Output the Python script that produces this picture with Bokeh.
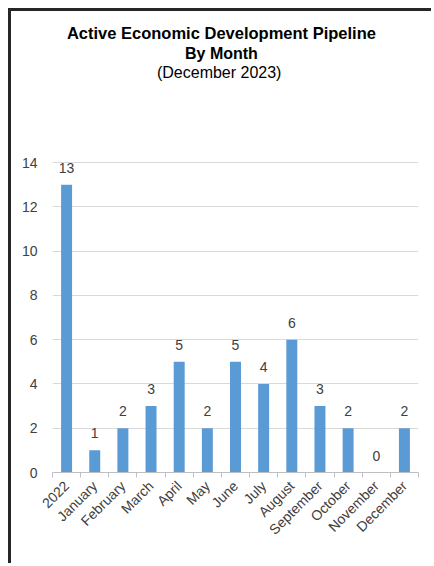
import math
from bokeh.plotting import figure
from bokeh.models import Range1d, FixedTicker, ColumnDataSource, LabelSet, Label
from bokeh.core.properties import value
from bokeh.embed import file_html
from bokeh.resources import INLINE

categories = ["2022", "January", "February", "March", "April", "May", "June",
              "July", "August", "September", "October", "November", "December"]
values = [13, 1, 2, 3, 5, 2, 5, 4, 6, 3, 2, 0, 2]
y_ticks = [0, 2, 4, 6, 8, 10, 12, 14]
title_lines = ["Active Economic Development Pipeline", "By Month", "(December  2023)"]

FONT = "Liberation Sans"
LABEL_COLOR = "#404040"

# frame: 366 x 461 px; 14 units of value = 310 px
Y_TOP = 461 / (310 / 14)

x = list(range(len(categories)))
src = ColumnDataSource(dict(x=x, top=values, label=[str(v) for v in values]))

p = figure(width=423, height=555, output_backend="svg", toolbar_location=None,
           title=None,
           x_range=Range1d(-0.5, len(categories) - 0.5), y_range=Range1d(0, Y_TOP),
           min_border_left=41, min_border_right=16, min_border_top=0,
           min_border_bottom=94)
p.styles = {"margin-left": "8px", "margin-top": "8px",
            "border-left": "3px solid #262626", "border-top": "3px solid #262626"}
p.outline_line_color = None
p.background_fill_color = "white"
p.border_fill_color = "white"

p.vbar(x="x", top="top", width=0.39, source=src, fill_color="#5B9BD5",
       line_color=None)

labels = LabelSet(x="x", y="top", text="label", source=src, text_align="center",
                  text_baseline="alphabetic", y_offset=12,
                  text_font_size="14px", text_color=LABEL_COLOR,
                  text_font=value(FONT))
p.add_layout(labels)

# Title lines
title_specs = [(19.83, "bold", "16.5px"), (18.93, "bold", "16px"), (18.08, "normal", "16px")]
for txt, (yy, style, size) in zip(title_lines, title_specs):
    p.add_layout(Label(x=5.5, y=yy, text=txt, text_align="center",
                       text_baseline="alphabetic", text_font_size=size,
                       text_font_style=style, text_font=FONT, text_color="black"))

xa = p.xaxis[0]
xa.ticker = FixedTicker(ticks=x, minor_ticks=[i - 0.5 for i in range(len(categories) + 1)])
xa.major_label_overrides = {i: c for i, c in enumerate(categories)}
xa.major_label_orientation = math.pi / 4
xa.major_tick_out = 0
xa.major_tick_in = 0
xa.minor_tick_out = 5
xa.minor_tick_in = 0
xa.axis_line_color = "#bfbfbf"
xa.minor_tick_line_color = "#bfbfbf"
xa.major_label_text_font_size = "14px"
xa.major_label_text_color = LABEL_COLOR
xa.major_label_text_font = FONT
xa.major_label_standoff = 6

ya = p.yaxis[0]
ya.ticker = FixedTicker(ticks=y_ticks)
ya.axis_line_color = None
ya.major_tick_out = 0
ya.major_tick_in = 0
ya.minor_tick_out = 0
ya.minor_tick_in = 0
ya.major_label_standoff = 15
ya.major_label_text_font_size = "14px"
ya.major_label_text_color = LABEL_COLOR
ya.major_label_text_font = FONT

p.xgrid.visible = False
p.ygrid.grid_line_color = "#d9d9d9"

open("out.html", "w").write(file_html(p, INLINE))
